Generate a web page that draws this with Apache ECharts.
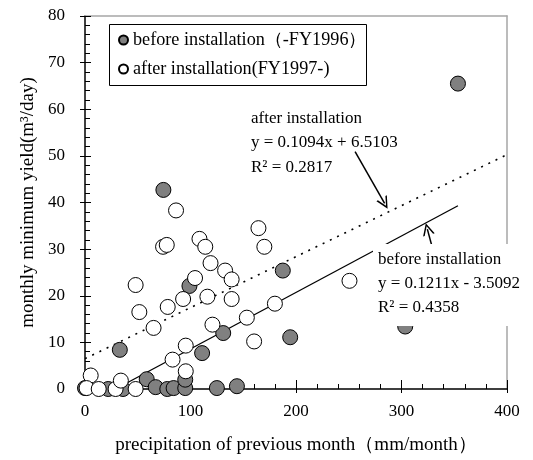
<!DOCTYPE html>
<html>
<head>
<meta charset="utf-8">
<script src="https://cdn.jsdelivr.net/npm/echarts@6/dist/echarts.min.js"></script>
<style>
  html, body { margin: 0; padding: 0; background: #fff; }
  #chart { width: 533px; height: 460px; }
</style>
</head>
<body>
<div id="chart"></div>
<script>
// precipitation of previous month (mm/month), monthly minimum yield (m3/day)
const beforePoints = [
  [0, 0.2], [22, 0], [36, 0], [33, 8.4], [58.5, 2.1], [67, 0.4], [78, 0], [84, 0.2],
  [95, 0.2], [95, 2], [74.3, 42.7], [99, 22.1], [111, 7.7], [125, 0.2], [144, 0.6],
  [131, 12], [187.5, 25.4], [194.5, 11.1], [303.5, 13.4], [353.5, 65.5]
]
const afterPoints = [
  [5.4, 2.9], [1.5, 0.2], [13, 0], [29, 0], [34, 1.8], [48, 0], [48, 22.3], [51.5, 16.5],
  [65, 13.1], [74, 30.5], [77.5, 30.9], [86.3, 38.3], [78.4, 17.6], [83, 6.3], [93, 19.3],
  [95.5, 9.3], [95.5, 3.8], [104.3, 23.8], [108.5, 32.2], [114, 30.5], [116, 19.8],
  [119, 27], [120.8, 13.8], [132.8, 25.4], [139, 23.5], [139, 19.3], [153.4, 15.3],
  [160.3, 10.2], [164.4, 34.5], [170, 30.5], [180, 18.3], [250.7, 23.2]
]
// regression lines as printed on the chart
const beforeFit = { slope: 0.1211, intercept: -3.5092, from: 29, to: 353.5 }
const afterFit = { slope: 0.1094, intercept: 6.5103, from: 0, to: 400 }
const beforeLabel = 'before installation\ny = 0.1211x - 3.5092\nR² = 0.4358'
const afterLabel = 'after installation\ny = 0.1094x + 6.5103\nR² = 0.2817'
// arrows from annotation to line, in data units
const arrowAfter = [[256, 50.9], [284, 39.8]]
const arrowBefore = [[329, 30.5], [324.5, 34.3]]

const seriesNames = ['before installation（-FY1996）', 'after installation(FY1997-)']
const xRange = [0, 400, 100]
const yRange = [0, 80, 10]

const FONT = "'Liberation Serif', 'Times New Roman', serif"
const fitLine = f => [[f.from, f.slope * f.from + f.intercept], [f.to, f.slope * f.to + f.intercept]]
const arrowHead = 'path://M5,0 L10,12 L8.6,12 L5,3.2 L1.4,12 L0,12 Z'

const chart = echarts.init(document.getElementById('chart'), null, { renderer: 'canvas' })

const baseAxis = (range) => ({
  type: 'value', min: range[0], max: range[1], interval: range[2],
  splitLine: { show: false },
})

chart.setOption({
  animation: false,
  backgroundColor: '#fff',
  grid: { left: 85, right: 26, top: 16, bottom: 71, outerBoundsMode: 'none' },
  legend: {
    orient: 'vertical', left: 107, top: 22,
    data: seriesNames, selectedMode: false,
    icon: 'circle', itemWidth: 9, itemHeight: 9, itemGap: 11,
    borderWidth: 0, padding: [9, 3, 3, 11],
    textStyle: { fontSize: 18.2, fontFamily: FONT, color: '#000' },
  },
  xAxis: [
    Object.assign(baseAxis(xRange), {
      position: 'bottom',
      name: 'precipitation of previous month（mm/month）',
      nameLocation: 'middle', nameGap: 47,
      nameTextStyle: { fontSize: 19, fontFamily: FONT, color: '#000' },
      axisLine: { show: true, onZero: false, lineStyle: { color: '#000', width: 1.5 } },
      axisTick: { show: true, inside: true, length: 9, lineStyle: { color: '#000' } },
      minorTick: { show: true, splitNumber: 5, length: 5, lineStyle: { color: '#000' } },
      axisLabel: { margin: 14, fontSize: 17, fontFamily: FONT, color: '#000' },
    }),
    Object.assign(baseAxis(xRange), {
      position: 'bottom',
      axisLine: { show: false, onZero: false },
      axisTick: { show: true, length: 4, lineStyle: { color: '#000' } },
      axisLabel: { show: false },
    }),
    Object.assign(baseAxis(xRange), {
      position: 'top',
      axisLine: { show: true, onZero: false, lineStyle: { color: '#a6a6a6', width: 1.5 } },
      axisTick: { show: false }, axisLabel: { show: false },
    }),
  ],
  yAxis: [
    Object.assign(baseAxis(yRange), {
      position: 'left',
      name: 'monthly minimum yield(m³/day)',
      nameLocation: 'middle', nameGap: 47, nameRotate: 90,
      nameTextStyle: { fontSize: 19, fontFamily: FONT, color: '#000' },
      axisLine: { show: true, onZero: false, lineStyle: { color: '#000', width: 1.5 } },
      axisTick: { show: true, inside: true, length: 6, lineStyle: { color: '#000' } },
      minorTick: { show: true, splitNumber: 5, length: 5, lineStyle: { color: '#000' } },
      axisLabel: { margin: 20, fontSize: 17, fontFamily: FONT, color: '#000' },
    }),
    Object.assign(baseAxis(yRange), {
      position: 'left',
      axisLine: { show: false, onZero: false },
      axisTick: { show: true, length: 5, lineStyle: { color: '#000' } },
      axisLabel: { show: false },
    }),
    Object.assign(baseAxis(yRange), {
      position: 'right',
      axisLine: { show: true, onZero: false, lineStyle: { color: '#a6a6a6', width: 1.5 } },
      axisTick: { show: false }, axisLabel: { show: false },
    }),
  ],
  series: [
    {
      name: 'after fit', type: 'line', data: fitLine(afterFit),
      symbol: 'none', silent: true, z: 1,
      lineStyle: { color: '#000', width: 1.6, type: [2, 6] },
    },
    {
      name: 'before fit', type: 'line', data: fitLine(beforeFit),
      symbol: 'none', silent: true, z: 1,
      lineStyle: { color: '#000', width: 1.3 },
    },
    {
      name: seriesNames[0], type: 'scatter', data: beforePoints,
      symbol: 'circle', symbolSize: 15, clip: false, z: 2,
      itemStyle: { color: '#808080', borderColor: '#000', borderWidth: 1, opacity: 1 },
    },
    {
      name: seriesNames[1], type: 'scatter', data: afterPoints,
      symbol: 'circle', symbolSize: 15, clip: false, z: 3,
      itemStyle: { color: '#fff', borderColor: '#000', borderWidth: 1, opacity: 1 },
    },
    {
      type: 'lines', coordinateSystem: 'cartesian2d', silent: true, z: 5,
      symbol: ['none', arrowHead], symbolSize: [8, 12],
      lineStyle: { color: '#000', width: 1.5, opacity: 1 },
      data: [{ coords: arrowAfter }, { coords: arrowBefore }],
    },
  ],
  graphic: [
    {
      // legend frame
      type: 'rect', left: 107, top: 22, z: 100,
      shape: { width: 257, height: 61 },
      style: { fill: 'none', stroke: '#000', lineWidth: 1 },
    },
    {
      type: 'text', left: 251, top: 106, z: 100,
      style: { text: afterLabel, fontSize: 17, fontFamily: FONT, fill: '#000', lineHeight: 24.5 },
    },
    {
      type: 'rect', left: 373, top: 244, z: 100,
      shape: { width: 150, height: 82 },
      style: { fill: '#fff' },
    },
    {
      type: 'text', left: 378, top: 248, z: 101,
      style: { text: beforeLabel, fontSize: 17, fontFamily: FONT, fill: '#000', lineHeight: 24 },
    },
  ],
})
</script>
</body>
</html>
